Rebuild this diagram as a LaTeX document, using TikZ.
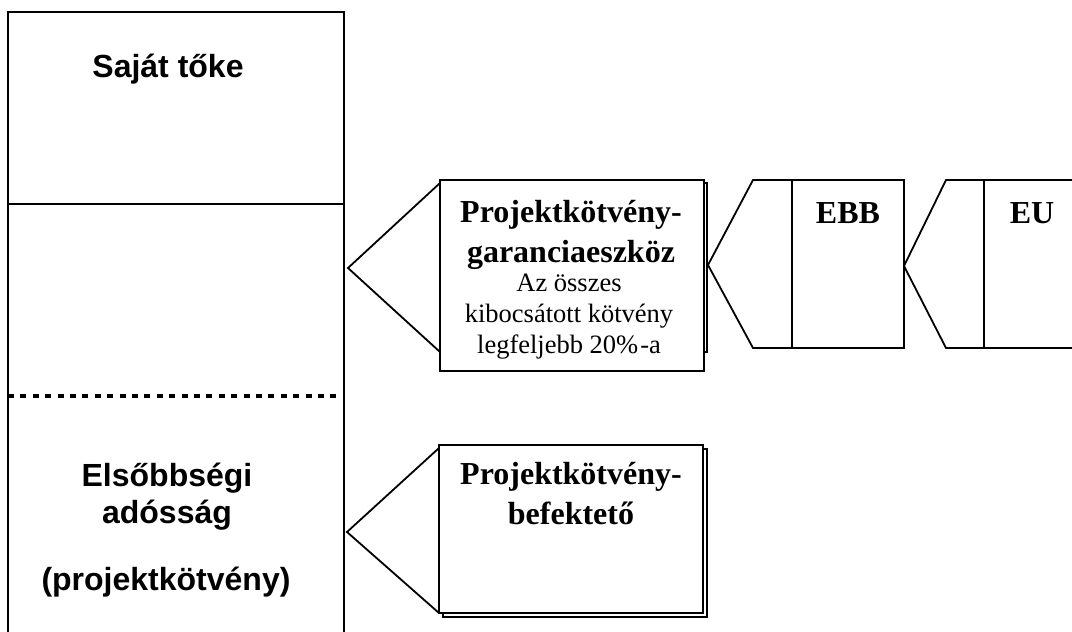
\documentclass[tikz,border=0pt]{standalone}
\usepackage{fontspec}
\setmainfont{Liberation Serif}
\newfontfamily\arialf{Liberation Sans}
\begin{document}
\begin{tikzpicture}[x=1pt,y=-1pt,
  edge/.style={line width=1.8pt,line join=miter},
  sanslbl/.style={font=\arialf\bfseries\fontsize{32}{37}\selectfont,align=center,inner sep=0pt},
  titlelbl/.style={font=\bfseries\fontsize{32}{40}\selectfont,align=center,inner sep=0pt},
  sublbl/.style={font=\fontsize{26.5}{31}\selectfont,align=center,inner sep=0pt}]
\useasboundingbox (0,0) rectangle (1072,632);
\begin{scope}
\clip (0,0) rectangle (1072,632);
% left column
\draw[edge] (8,645) -- (8,12) -- (344,12) -- (344,645);
\coordinate (sepL) at (8,204);
\coordinate (sepR) at (344,204);
\draw[edge] (sepL) -- (sepR);
\coordinate (dotL) at (8,396);
\coordinate (dotR) at (342,396);
\draw[line width=4.5pt,dash pattern=on 6pt off 6.4pt] (dotL) -- (dotR);
\node[sanslbl] (equity) at (168,69) {Saját tőke};
\node[sanslbl] (senior) at (167,497) {Elsőbbségi\\adósság};
\node[sanslbl] (pb) at (166,582) {(projektkötvény)};

% guarantee box
\draw[edge,fill=white] (444,183) rectangle (707,352);
\draw[edge,fill=white] (440,180) -- (704,180) -- (704,371) -- (440,371) -- cycle;
\coordinate (gtip) at (348,268);
\draw[edge] (440,183) -- (gtip) -- (440,352);
\node[titlelbl] (gtitle) at (571,235) {Projektkötvény-\\garanciaeszköz};
\node[sublbl] (gsub) at (569,317) {Az összes\\kibocsátott kötvény\\legfeljebb 20\%\kern2pt-a};

% EBB
\coordinate (etip) at (708,265);
\draw[edge] (792,180) -- (753,180) -- (etip) -- (753,348) -- (792,348);
\draw[edge] (792,180) -- (904,180) -- (904,348) -- (792,348) -- cycle;
\node[titlelbl] (ebb) at (848,213) {EBB};

% EU
\coordinate (utip) at (904,266);
\draw[edge] (984,180) -- (946,180) -- (utip) -- (946,348) -- (984,348);
\draw[edge] (1080,180) -- (984,180) -- (984,348) -- (1080,348);
\node[titlelbl] (eu) at (1032,213) {EU};

% investor box
\draw[edge,fill=white] (443,449) rectangle (707,617);
\draw[edge,fill=white] (439,445) rectangle (703,613);
\coordinate (itip) at (347,532);
\draw[edge] (439,448) -- (itip) -- (439,613);
\node[titlelbl] (inv) at (571,494) {Projektkötvény-\\befektető};
\end{scope}
\end{tikzpicture}
\end{document}
